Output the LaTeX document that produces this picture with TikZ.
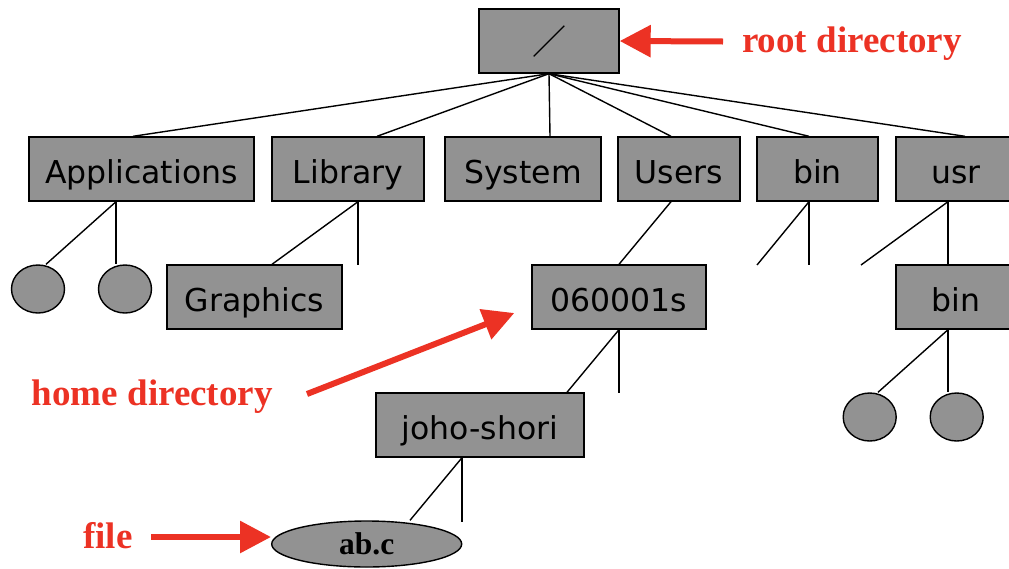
\documentclass[tikz,border=0pt]{standalone}
\usepackage{fontspec}
\newfontfamily\boxfont{DejaVu Sans}
\newfontfamily\lblfont{Liberation Serif}
\newfontfamily\cjkfont{Noto Sans CJK JP}
\usetikzlibrary{shapes.geometric,arrows.meta,calc}
\definecolor{boxgray}{RGB}{146,146,146}
\definecolor{annred}{RGB}{236,50,36}
\tikzset{
  dirbox/.style={draw=black, line width=1.4pt, fill=boxgray, rectangle, inner sep=0pt,
    minimum height=64pt, text height=36pt, text depth=8pt,
    font=\boxfont\fontsize{31.5}{36}\selectfont},
  leaf/.style={draw=black, line width=1.4pt, fill=boxgray, ellipse, inner sep=0pt,
    minimum width=53pt, minimum height=48pt},
  conn/.style={draw=black, line width=1.4pt},
  redarr/.style={draw=annred, line width=6pt, -{Triangle[length=31pt,width=31pt]}},
  redlbl/.style={text=annred, inner sep=0pt, anchor=base west,
    font=\lblfont\bfseries\fontsize{37}{40}\selectfont}
}
\begin{document}
\begin{tikzpicture}[x=1pt,y=-1pt]
\useasboundingbox (0,0) rectangle (1009,568);
% boxes
\node[dirbox, minimum width=140pt] (root) at (549,41) {};
\node[font=\cjkfont\fontsize{34}{36}\selectfont, inner sep=0pt] (slash) at (549,42) {／};
\node[dirbox, minimum width=225pt] (app) at (141.5,169) {Applications};
\node[dirbox, minimum width=152pt] (lib) at (348,169) {Library};
\node[dirbox, minimum width=156pt] (sys) at (523,169) {System};
\node[dirbox, minimum width=122pt] (users) at (679,169) {Users};
\node[dirbox, minimum width=121pt] (bin) at (817.5,169) {bin};
\node[dirbox, minimum width=120pt] (usr) at (956,169) {usr};
\node[dirbox, minimum width=175pt] (gfx) at (254.5,297) {Graphics};
\node[dirbox, minimum width=174pt] (home) at (619,297) {060001s};
\node[dirbox, minimum width=120pt] (ubin) at (956,297) {bin};
\node[dirbox, minimum width=208pt] (joho) at (480,425) {joho-shori};
\node[draw=black, line width=1.4pt, fill=boxgray, ellipse, inner sep=0pt,
  minimum width=190pt, minimum height=46pt, text height=26pt, text depth=6pt,
  font=\lblfont\bfseries\fontsize{31.5}{34}\selectfont] (abc) at (366.7,544) {ab.c};
\node[leaf] (c1) at (38,289) {};
\node[leaf] (c2) at (125,289) {};
\node[leaf] (c3) at (869.7,417) {};
\node[leaf] (c4) at (956.7,417) {};
% free ends
\coordinate (libV) at (358,265);
\coordinate (binL) at (757,265);
\coordinate (binV) at (809,265);
\coordinate (usrL) at (861,265);
\coordinate (homeV) at (619,393);
\coordinate (johoV) at (462,522);
% root connectors
\draw[conn] (root.south) -- (app.north -| 133,0);
\draw[conn] (root.south) -- (lib.north -| 377,0);
\draw[conn] (root.south) -- (sys.north -| 550,0);
\draw[conn] (root.south) -- (users.north -| 671,0);
\draw[conn] (root.south) -- (bin.north -| 809,0);
\draw[conn] (root.south) -- (usr.north -| 965,0);
% Applications
\draw[conn] (app.south -| 116,0) -- (c1.north -| 46,0);
\draw[conn] (app.south -| 116,0) -- (c2.north -| 116,0);
% Library
\draw[conn] (lib.south -| 358,0) -- (gfx.north -| 272,0);
\draw[conn] (lib.south -| 358,0) -- (libV);
% Users
\draw[conn] (users.south -| 671,0) -- (home.north);
% bin
\draw[conn] (bin.south -| 809,0) -- (binL);
\draw[conn] (bin.south -| 809,0) -- (binV);
% usr
\draw[conn] (usr.south -| 948,0) -- (usrL);
\draw[conn] (usr.south -| 948,0) -- (ubin.north -| 948,0);
% 060001s
\draw[conn] (home.south) -- (joho.north -| 567,0);
\draw[conn] (home.south) -- (homeV);
% joho-shori
\draw[conn] (joho.south -| 462,0) -- (abc.north -| 410,0);
\draw[conn] (joho.south -| 462,0) -- (johoV);
% usr/bin
\draw[conn] (ubin.south -| 948,0) -- (c3.north -| 878,0);
\draw[conn] (ubin.south -| 948,0) -- (c4.north -| 948,0);
% annotations
\node[redlbl] (rootlbl) at (742,52.7) {root directory};
\node[redlbl] (homelbl) at (31.7,405) {home directory};
\node[redlbl] (filelbl) at (83,548) {file};
\coordinate (rootTail) at (723,41.5);
\coordinate (homeTail) at (307,394);
\coordinate (fileTail) at (151,537);
\draw[redarr] (rootTail) -- (root.east);
\draw[redarr] (homeTail) -- ($(home.west)+(-17,16)$);
\draw[redarr] (fileTail) -- (abc.west |- fileTail);
\end{tikzpicture}
\end{document}
